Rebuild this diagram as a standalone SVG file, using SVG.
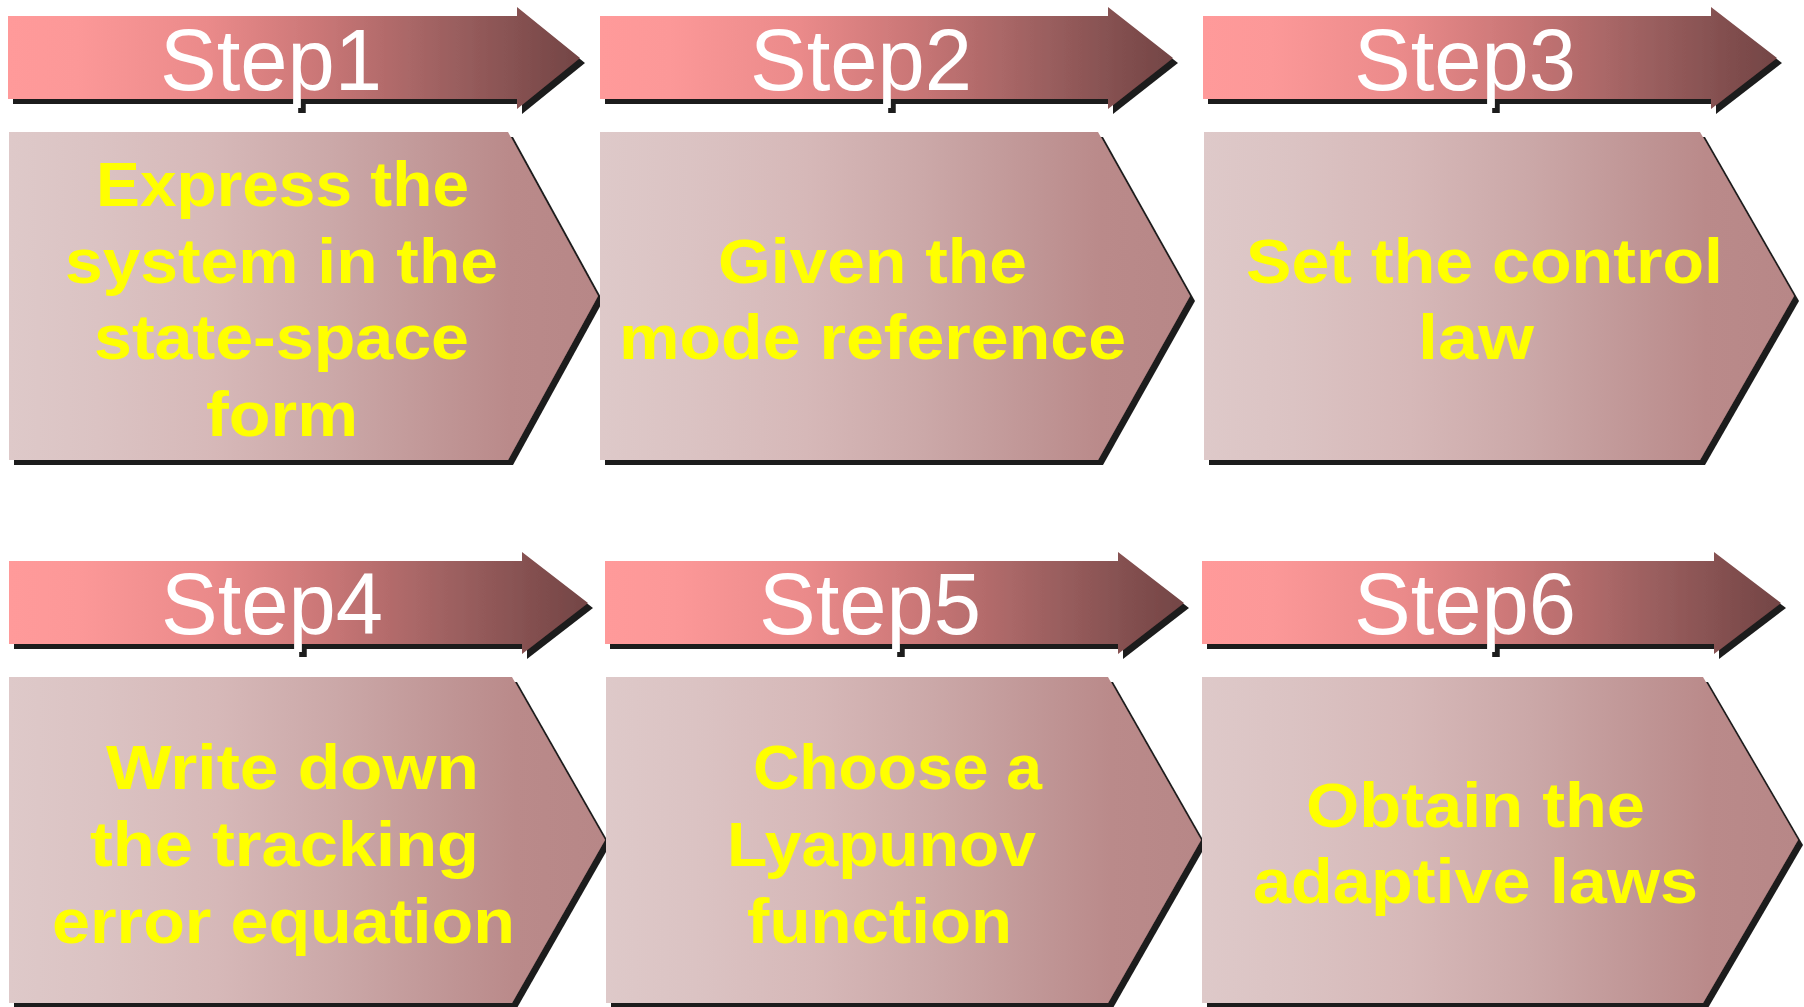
<svg xmlns="http://www.w3.org/2000/svg" width="1804" height="1007" viewBox="0 0 1804 1007">
  <defs>
    <linearGradient id="gBanner" x1="0" y1="0" x2="1" y2="0">
      <stop offset="0" stop-color="#FF9A9A"/>
      <stop offset="0.12" stop-color="#FC9898"/>
      <stop offset="0.35" stop-color="#EA8A8A"/>
      <stop offset="0.55" stop-color="#C97676"/>
      <stop offset="0.75" stop-color="#A06262"/>
      <stop offset="0.9" stop-color="#845050"/>
      <stop offset="1" stop-color="#734545"/>
    </linearGradient>
    <linearGradient id="gBody" x1="0" y1="0" x2="1" y2="0">
      <stop offset="0" stop-color="#DEC9C9"/>
      <stop offset="0.15" stop-color="#DBC3C3"/>
      <stop offset="0.35" stop-color="#D6B8B8"/>
      <stop offset="0.55" stop-color="#CBA8A8"/>
      <stop offset="0.75" stop-color="#BF9494"/>
      <stop offset="0.85" stop-color="#BA8A8A"/>
      <stop offset="1" stop-color="#B78787"/>
    </linearGradient>
    <filter id="shadow" x="-5%" y="-10%" width="115%" height="130%">
      <feOffset in="SourceAlpha" dx="5" dy="5" result="off"/>
      <feFlood flood-color="#1C1C1C" result="col"/>
      <feComposite in="col" in2="off" operator="in" result="sh"/>
      <feMerge>
        <feMergeNode in="sh"/>
        <feMergeNode in="SourceGraphic"/>
      </feMerge>
    </filter>
  </defs>
  <style>
    .banner { fill: url(#gBanner); }
    .body { fill: url(#gBody); }
    .step { font-family: "Liberation Sans", Arial, sans-serif; font-size: 88px; fill: #FFFFFF; text-anchor: middle; }
    .txt { font-family: "Liberation Sans", Arial, sans-serif; font-weight: bold; font-size: 63px; fill: #FFFF00; text-anchor: middle; }
  </style>
  <rect width="1804" height="1007" fill="#FFFFFF"/>

  <g id="connectors"/>

  <g id="step1">
    <g filter="url(#shadow)">
      <polygon class="banner" points="8,16 517,16 517,7 580,58 517,109 517,99 8,99"/>
      <text class="step" x="271" y="90" textLength="222" lengthAdjust="spacingAndGlyphs">Step1</text>
    </g>
    <g filter="url(#shadow)">
      <polygon class="body" points="9,132 508,132 598,296 508,460 9,460"/>
      <text class="txt" x="282.5" y="206" textLength="373" lengthAdjust="spacingAndGlyphs">Express the</text>
      <text class="txt" x="281.5" y="283" textLength="433" lengthAdjust="spacingAndGlyphs">system in the</text>
      <text class="txt" x="281.5" y="359" textLength="375" lengthAdjust="spacingAndGlyphs">state-space</text>
      <text class="txt" x="282" y="436" textLength="152" lengthAdjust="spacingAndGlyphs">form</text>
    </g>
  </g>

  <g id="step2">
    <g filter="url(#shadow)">
      <polygon class="banner" points="600,16 1108,16 1108,7 1173,58 1108,109 1108,99 600,99"/>
      <text class="step" x="861" y="90" textLength="222" lengthAdjust="spacingAndGlyphs">Step2</text>
    </g>
    <g filter="url(#shadow)">
      <polygon class="body" points="600,132 1098,132 1190,296 1098,460 600,460"/>
      <text class="txt" x="872.5" y="283" textLength="309" lengthAdjust="spacingAndGlyphs">Given the</text>
      <text class="txt" x="872.5" y="359" textLength="507" lengthAdjust="spacingAndGlyphs">mode reference</text>
    </g>
  </g>

  <g id="step3">
    <g filter="url(#shadow)">
      <polygon class="banner" points="1203,16 1711,16 1711,7 1777,58 1711,109 1711,99 1203,99"/>
      <text class="step" x="1465" y="90" textLength="222" lengthAdjust="spacingAndGlyphs">Step3</text>
    </g>
    <g filter="url(#shadow)">
      <polygon class="body" points="1204,132 1700,132 1794,296 1700,460 1204,460"/>
      <text class="txt" x="1484.5" y="283" textLength="477" lengthAdjust="spacingAndGlyphs">Set the control</text>
      <text class="txt" x="1476" y="359" textLength="116" lengthAdjust="spacingAndGlyphs">law</text>
    </g>
  </g>

  <g id="step4">
    <g filter="url(#shadow)">
      <polygon class="banner" points="9,561 522,561 522,552 588,603 522,654 522,644 9,644"/>
      <text class="step" x="272" y="634" textLength="222" lengthAdjust="spacingAndGlyphs">Step4</text>
    </g>
    <g filter="url(#shadow)">
      <polygon class="body" points="9,677 512,677 605,840 512,1003 9,1003"/>
      <text class="txt" x="292.5" y="789" textLength="373" lengthAdjust="spacingAndGlyphs">Write down</text>
      <text class="txt" x="284.5" y="866" textLength="389" lengthAdjust="spacingAndGlyphs">the tracking</text>
      <text class="txt" x="283.5" y="943" textLength="463" lengthAdjust="spacingAndGlyphs">error equation</text>
    </g>
  </g>

  <g id="step5">
    <g filter="url(#shadow)">
      <polygon class="banner" points="605,561 1118,561 1118,552 1184,603 1118,654 1118,644 605,644"/>
      <text class="step" x="870" y="634" textLength="222" lengthAdjust="spacingAndGlyphs">Step5</text>
    </g>
    <g filter="url(#shadow)">
      <polygon class="body" points="606,677 1108,677 1201,840 1108,1003 606,1003"/>
      <text class="txt" x="897.5" y="789" textLength="289" lengthAdjust="spacingAndGlyphs">Choose a</text>
      <text class="txt" x="881.5" y="866" textLength="309" lengthAdjust="spacingAndGlyphs">Lyapunov</text>
      <text class="txt" x="879.5" y="943" textLength="265" lengthAdjust="spacingAndGlyphs">function</text>
    </g>
  </g>

  <g id="step6">
    <g filter="url(#shadow)">
      <polygon class="banner" points="1202,561 1714,561 1714,552 1781,603 1714,654 1714,644 1202,644"/>
      <text class="step" x="1465" y="634" textLength="222" lengthAdjust="spacingAndGlyphs">Step6</text>
    </g>
    <g filter="url(#shadow)">
      <polygon class="body" points="1202,677 1703,677 1798,840 1703,1003 1202,1003"/>
      <text class="txt" x="1475.5" y="827" textLength="339" lengthAdjust="spacingAndGlyphs">Obtain the</text>
      <text class="txt" x="1475.5" y="903" textLength="445" lengthAdjust="spacingAndGlyphs">adaptive laws</text>
    </g>
  </g>
</svg>
